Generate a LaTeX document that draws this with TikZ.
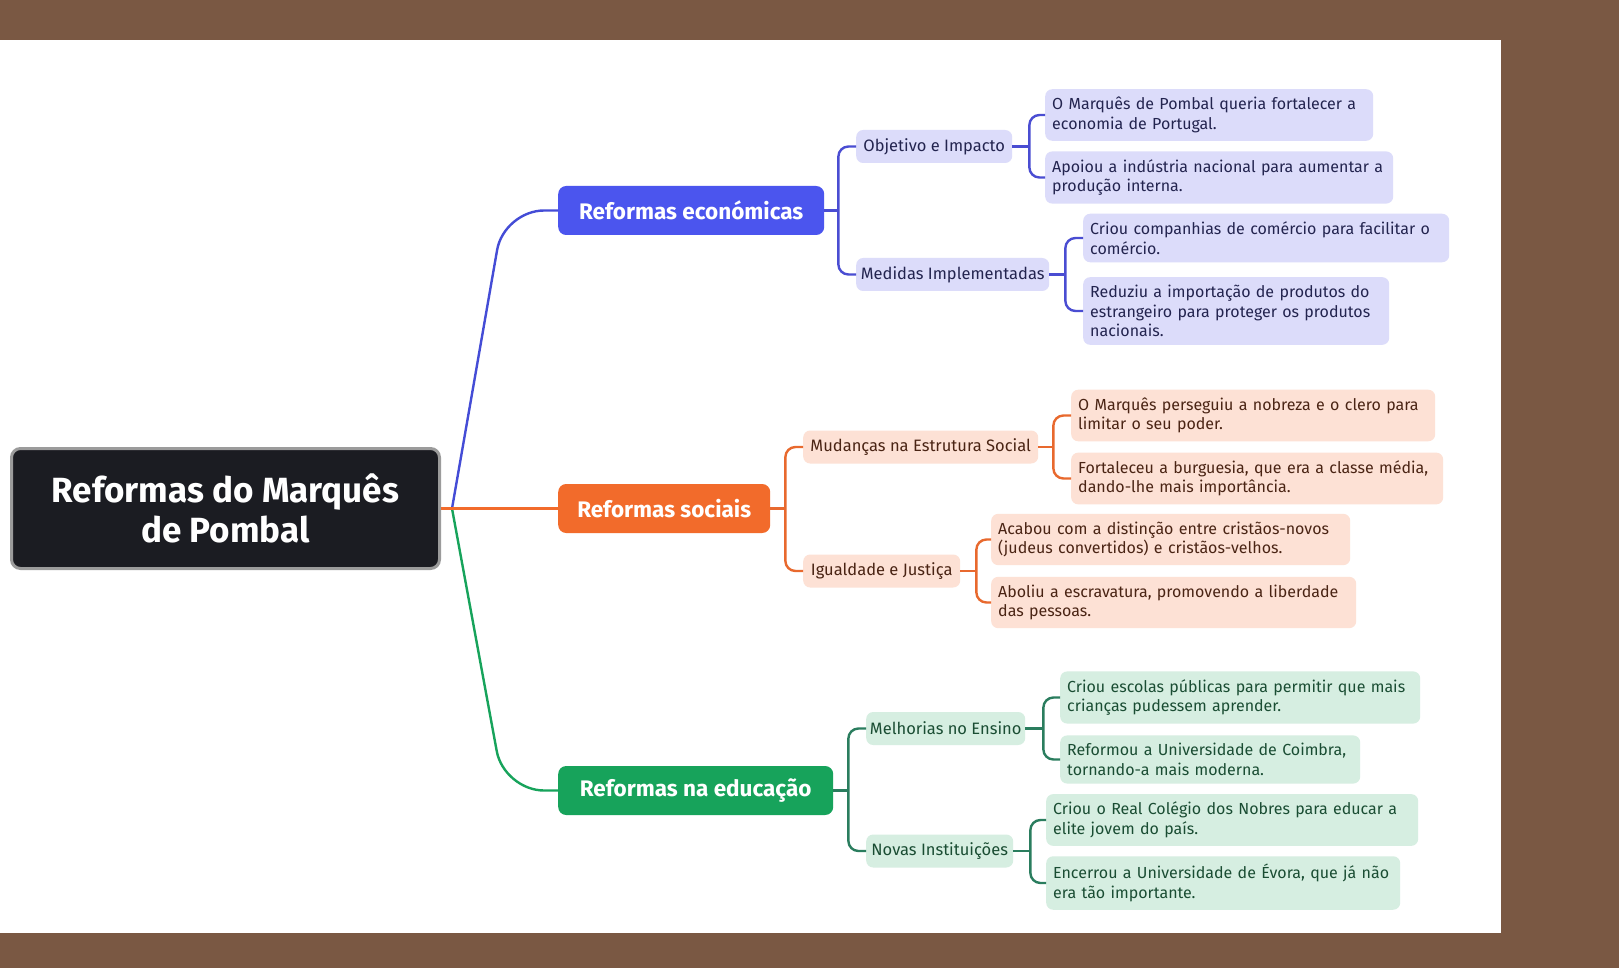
\documentclass[tikz,border=0pt]{standalone}
\usepackage{fontspec}
\setmainfont{Fira Sans}
\usetikzlibrary{positioning}

\definecolor{frame}{HTML}{7A5843}
\definecolor{rootfill}{HTML}{1B1C22}
\definecolor{rootline}{HTML}{9B9B9B}
% economic branch
\definecolor{econMain}{HTML}{4B55EE}
\definecolor{econLine}{HTML}{4A4DD2}
\definecolor{econLight}{HTML}{DCDCFA}
\definecolor{econText}{HTML}{23244F}
% social branch
\definecolor{socMain}{HTML}{F26B2B}
\definecolor{socLine}{HTML}{E8692E}
\definecolor{socLight}{HTML}{FDE1D5}
\definecolor{socText}{HTML}{4A2414}
% education branch
\definecolor{eduMain}{HTML}{17A35B}
\definecolor{eduLine}{HTML}{2A7D5E}
\definecolor{eduLight}{HTML}{D6EEE1}
\definecolor{eduText}{HTML}{1A4D33}

\begin{document}
\begin{tikzpicture}[x=1pt, y=-1pt,
    main/.style={rounded corners=8pt, text=white, anchor=west, inner xsep=0pt,
      font=\bfseries\fontsize{22.5}{24}\selectfont, minimum height=49pt},
    sub/.style={rounded corners=7pt, anchor=west, inner xsep=0pt,
      font=\fontsize{16.5}{20}\selectfont, minimum height=33pt},
    leaf/.style={rounded corners=7pt, anchor=west, align=left, inner xsep=7pt, inner ysep=8pt,
      font=\fontsize{16}{19.5}\selectfont},
    link/.style={line width=2.4pt, rounded corners=10pt},
  ]
  % Frame and sheet
  \useasboundingbox (0,0) rectangle (1619,968);
  \fill[frame] (0,0) rectangle (1619,968);
  \fill[white] (0,40) rectangle (1501,933);

  % Central topic
  \node[draw=rootline, line width=3pt, fill=rootfill, rounded corners=9pt, text=white,
    minimum width=428pt, minimum height=120pt, align=center,
    font=\bfseries\fontsize{35}{39.5}\selectfont] (root) at (225.5,508.5)
    {Reformas do Marquês\\de Pombal};

  % Main branches
  \node[main, fill=econMain, minimum width=266pt] (econ) at (558,210.5) {Reformas económicas};
  \node[main, fill=socMain, minimum width=212pt] (soc) at (558,508.5) {Reformas sociais};
  \node[main, fill=eduMain, minimum width=275pt] (edu) at (558,790.5) {Reformas na educação};

  \coordinate (hub) at (452,508.5);
  \coordinate (econBend) at (504,210.5);
  \coordinate (eduBend) at (504,790.5);
  \draw[line width=2.4pt, econMain!90!black, rounded corners=40pt] (hub) -- (econBend) -- (econ.west);
  \draw[line width=2.4pt, eduMain, rounded corners=40pt] (hub) -- (eduBend) -- (edu.west);
  \draw[line width=2.4pt, socMain] (root.east) -- (soc.west);

  % Economic reforms
  \node[sub, fill=econLight, text=econText, minimum width=156pt] (obj) at (856,146.5) {Objetivo e Impacto};
  \node[sub, fill=econLight, text=econText, minimum width=193pt] (med) at (856,274.5) {Medidas Implementadas};

  \node[leaf, fill=econLight, text=econText, text width=314pt] (obj1) at (1045,115)
    {O Marquês de Pombal queria fortalecer a\\economia de Portugal.};
  \node[leaf, fill=econLight, text=econText, text width=334pt] (obj2) at (1045,177.5)
    {Apoiou a indústria nacional para aumentar a\\produção interna.};
  \node[leaf, fill=econLight, text=econText, text width=352pt] (med1) at (1083,238)
    {Criou companhias de comércio para facilitar o\\comércio.};
  \node[leaf, fill=econLight, text=econText, text width=292pt] (med2) at (1083,311)
    {Reduziu a importação de produtos do\\estrangeiro para proteger os produtos\\nacionais.};

  \draw[link, econLine] (econ.east) -- ++(14,0) coordinate (econFork);
  \draw[link, econLine] (obj.west) -| (econFork) |- (med.west);
  \draw[link, econLine] (obj.east) -- ++(17,0) coordinate (objFork);
  \draw[link, econLine] (obj1.west) -| (objFork) |- (obj2.west);
  \draw[link, econLine] (med.east) -- ++(16,0) coordinate (medFork);
  \draw[link, econLine] (med1.west) -| (medFork) |- (med2.west);

  % Social reforms
  \node[sub, fill=socLight, text=socText, minimum width=235pt] (mud) at (803,447) {Mudanças na Estrutura Social};
  \node[sub, fill=socLight, text=socText, minimum width=157pt] (igu) at (803,571) {Igualdade e Justiça};

  \node[leaf, fill=socLight, text=socText, text width=350pt] (mud1) at (1071,415.5)
    {O Marquês perseguiu a nobreza e o clero para\\limitar o seu poder.};
  \node[leaf, fill=socLight, text=socText, text width=358pt] (mud2) at (1071,478.5)
    {Fortaleceu a burguesia, que era a classe média,\\dando-lhe mais importância.};
  \node[leaf, fill=socLight, text=socText, text width=345pt] (igu1) at (991,539.5)
    {Acabou com a distinção entre cristãos-novos\\(judeus convertidos) e cristãos-velhos.};
  \node[leaf, fill=socLight, text=socText, text width=351pt] (igu2) at (991,602.5)
    {Aboliu a escravatura, promovendo a liberdade\\das pessoas.};

  \draw[link, socLine] (soc.east) -- ++(15,0) coordinate (socFork);
  \draw[link, socLine] (mud.west) -| (socFork) |- (igu.west);
  \draw[link, socLine] (mud.east) -- ++(15,0) coordinate (mudFork);
  \draw[link, socLine] (mud1.west) -| (mudFork) |- (mud2.west);
  \draw[link, socLine] (igu.east) -- ++(16,0) coordinate (iguFork);
  \draw[link, socLine] (igu1.west) -| (iguFork) |- (igu2.west);

  % Education reforms
  \node[sub, fill=eduLight, text=eduText, minimum width=159pt] (mel) at (866,728.5) {Melhorias no Ensino};
  \node[sub, fill=eduLight, text=eduText, minimum width=147pt] (nov) at (866,851) {Novas Instituições};

  \node[leaf, fill=eduLight, text=eduText, text width=346pt] (mel1) at (1060,697.5)
    {Criou escolas públicas para permitir que mais\\crianças pudessem aprender.};
  \node[leaf, fill=eduLight, text=eduText, text width=286pt] (mel2) at (1060,759.5)
    {Reformou a Universidade de Coimbra,\\tornando-a mais moderna.};
  \node[leaf, fill=eduLight, text=eduText, text width=358pt] (nov1) at (1046,820)
    {Criou o Real Colégio dos Nobres para educar a\\elite jovem do país.};
  \node[leaf, fill=eduLight, text=eduText, text width=340pt] (nov2) at (1046,883)
    {Encerrou a Universidade de Évora, que já não\\era tão importante.};

  \draw[link, eduLine] (edu.east) -- ++(15,0) coordinate (eduFork);
  \draw[link, eduLine] (mel.west) -| (eduFork) |- (nov.west);
  \draw[link, eduLine] (mel.east) -- ++(18,0) coordinate (melFork);
  \draw[link, eduLine] (mel1.west) -| (melFork) |- (mel2.west);
  \draw[link, eduLine] (nov.east) -- ++(17,0) coordinate (novFork);
  \draw[link, eduLine] (nov1.west) -| (novFork) |- (nov2.west);
\end{tikzpicture}
\end{document}
